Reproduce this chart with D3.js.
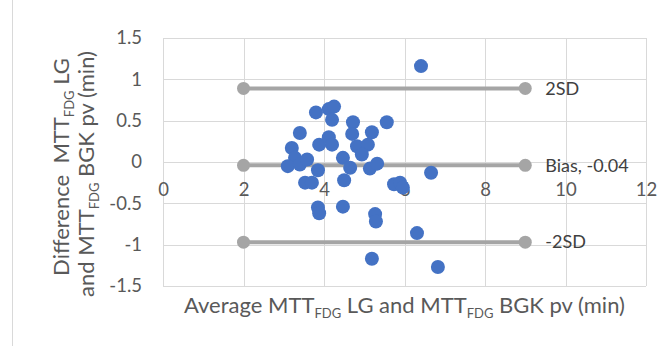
<!DOCTYPE html>
<html>
<head>
<meta charset="utf-8">
<script src="https://cdn.jsdelivr.net/npm/d3@7"></script>
<style>
  body { margin: 0; background: #fff; }
  text { font-family: Lato, "Open Sans", sans-serif; fill: #595959; }
</style>
</head>
<body>
<div id="chart-area"></div>
<script>
const MARGIN = { LEFT: 163, RIGHT: 24, TOP: 38, BOTTOM: 60 }
const WIDTH = 670 - MARGIN.LEFT - MARGIN.RIGHT
const HEIGHT = 346 - MARGIN.TOP - MARGIN.BOTTOM

// average of the two methods (x) and their difference (y)
const avgValues = [6.41, 3.80, 4.12, 4.25, 4.20, 3.40, 3.20, 3.28, 3.10, 3.40, 3.58, 3.85, 3.88, 4.12,
  4.20, 4.72, 4.70, 5.19, 5.56, 4.82, 5.09, 4.94, 4.47, 4.65, 5.14, 5.32, 6.66, 3.53, 3.70, 4.50,
  5.74, 5.89, 5.96, 3.85, 3.88, 4.47, 5.27, 5.29, 6.31, 5.19, 6.83]
const diffValues = [1.16, 0.60, 0.64, 0.67, 0.51, 0.35, 0.17, 0.05, -0.05, -0.03, 0.03, -0.10, 0.21, 0.30,
  0.21, 0.48, 0.34, 0.36, 0.48, 0.19, 0.21, 0.09, 0.05, -0.07, -0.08, -0.02, -0.13, -0.25, -0.25, -0.22,
  -0.27, -0.25, -0.31, -0.55, -0.62, -0.54, -0.63, -0.72, -0.86, -1.17, -1.27]

// agreement lines
const limitNames = ["2SD", "Bias, -0.04", "-2SD"]
const limitValues = [0.89, -0.04, -0.97]
const limitRange = [2, 9]

const xTicks = [0, 2, 4, 6, 8, 10, 12]
const yTicks = [-1.5, -1, -0.5, 0, 0.5, 1, 1.5]

const svg = d3.select("#chart-area").append("svg")
  .attr("width", 670)
  .attr("height", 346)

// outer chart frame (left edge visible)
svg.append("line")
  .attr("x1", 12.5).attr("x2", 12.5)
  .attr("y1", 0).attr("y2", 346)
  .attr("stroke", "#d9d9d9")

const g = svg.append("g")
  .attr("transform", `translate(${MARGIN.LEFT}, ${MARGIN.TOP})`)

const x = d3.scaleLinear()
  .domain([0, 12])
  .range([0, WIDTH])

const y = d3.scaleLinear()
  .domain([-1.5, 1.5])
  .range([HEIGHT, 0])

// gridlines
g.append("g")
  .selectAll("line.h")
  .data(yTicks)
  .enter().append("line")
  .attr("x1", 0).attr("x2", WIDTH)
  .attr("y1", d => Math.round(y(d)) + 0.5)
  .attr("y2", d => Math.round(y(d)) + 0.5)
  .attr("stroke", "#d9d9d9")

g.append("g")
  .selectAll("line.v")
  .data(xTicks)
  .enter().append("line")
  .attr("y1", 0).attr("y2", HEIGHT)
  .attr("x1", d => Math.round(x(d)) + 0.5)
  .attr("x2", d => Math.round(x(d)) + 0.5)
  .attr("stroke", "#d9d9d9")

// y axis labels
const yAxisCall = d3.axisLeft(y)
  .tickValues(yTicks)
  .tickSize(0)
  .tickPadding(21)
  .tickFormat(d => d)
const yAxisGroup = g.append("g").call(yAxisCall)
yAxisGroup.select(".domain").remove()
yAxisGroup.selectAll("text")
  .attr("font-size", "18.5px")
  .style("font-family", "Lato, sans-serif")
  .attr("fill", "#595959")

// x axis labels, hanging off the zero line
const xAxisCall = d3.axisBottom(x)
  .tickValues(xTicks)
  .tickSize(0)
  .tickPadding(21)
const xAxisGroup = g.append("g")
  .attr("transform", `translate(0, ${y(0)})`)
  .call(xAxisCall)
xAxisGroup.select(".domain").remove()
xAxisGroup.selectAll("text")
  .attr("font-size", "18.5px")
  .style("font-family", "Lato, sans-serif")
  .attr("fill", "#595959")

// limit lines with end markers
limitValues.forEach((v, i) => {
  g.append("line")
    .attr("x1", x(limitRange[0])).attr("x2", x(limitRange[1]))
    .attr("y1", y(v)).attr("y2", y(v))
    .attr("stroke", "#a5a5a5")
    .attr("stroke-width", 4)
  limitRange.forEach(r => {
    g.append("circle")
      .attr("cx", x(r))
      .attr("cy", y(v))
      .attr("r", 6.5)
      .attr("fill", "#a5a5a5")
  })
  g.append("text")
    .attr("x", x(limitRange[1]) + 20)
    .attr("y", y(v))
    .attr("dy", "0.35em")
    .attr("font-size", "18px")
    .style("fill", "#404040")
    .text(limitNames[i])
})

// data points
g.selectAll("circle.pt")
  .data(avgValues.map((a, i) => ({ avg: a, diff: diffValues[i] })))
  .enter().append("circle")
  .attr("class", "pt")
  .attr("cx", d => x(d.avg))
  .attr("cy", d => y(d.diff))
  .attr("r", 7)
  .attr("fill", "#4472c4")

// axis titles, with FDG as subscript
function titleText(sel, parts) {
  parts.forEach(p => {
    if (p.sub) {
      sel.append("tspan").attr("font-size", "13px").attr("dy", "5").text(p.t)
    } else {
      sel.append("tspan").attr("dy", p.after ? "-5" : "0").text(p.t)
    }
  })
}

const xTitle = svg.append("text")
  .attr("x", MARGIN.LEFT + WIDTH / 2)
  .attr("y", 313)
  .attr("text-anchor", "middle")
  .attr("font-size", "22px")
  .style("white-space", "pre")
titleText(xTitle, [
  { t: "Average MTT" }, { t: "FDG", sub: true }, { t: " LG and MTT", after: true },
  { t: "FDG", sub: true }, { t: " BGK pv (min)", after: true }
])

const yTitle1 = svg.append("text")
  .attr("transform", "translate(69, 167) rotate(-90)")
  .attr("text-anchor", "middle")
  .attr("font-size", "22px")
  .style("white-space", "pre")
titleText(yTitle1, [
  { t: "Difference  MTT" }, { t: "FDG", sub: true }, { t: " LG", after: true }
])

const yTitle2 = svg.append("text")
  .attr("transform", "translate(94, 174) rotate(-90)")
  .attr("text-anchor", "middle")
  .attr("font-size", "22px")
  .style("white-space", "pre")
titleText(yTitle2, [
  { t: "and MTT" }, { t: "FDG", sub: true }, { t: " BGK pv (min)", after: true }
])
</script>
</body>
</html>
